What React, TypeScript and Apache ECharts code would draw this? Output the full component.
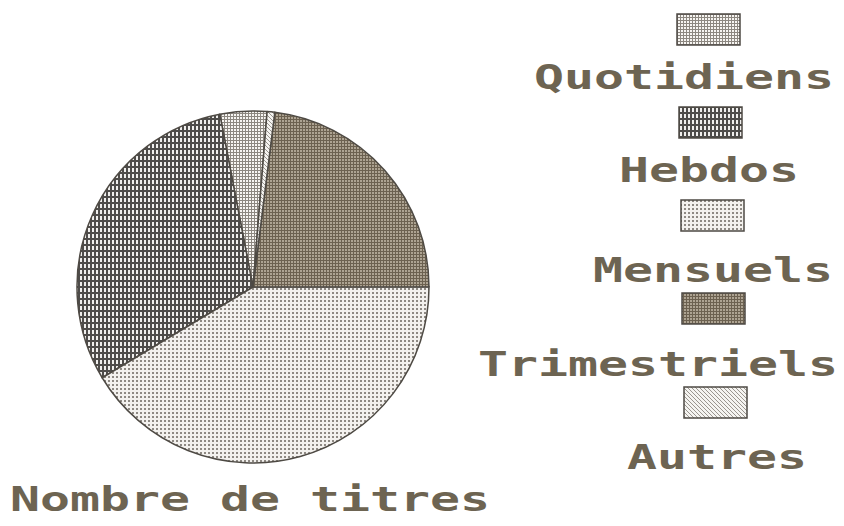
import React, { useEffect, useRef } from "react";
import * as echarts from "echarts";

// ---- data ----
const categories = ["Quotidiens", "Hebdos", "Mensuels", "Trimestriels", "Autres"];
const values = [4.3, 30.6, 41.4, 23.0, 0.7];
const chartTitle = "Nombre de titres";

// ---- layout / style (not data) ----
const boxX = [677, 679, 681, 682, 684];
const boxY = [14, 107, 200, 293, 387];
const textX = [534, 619, 593, 478, 627];
const textCapTop = [65, 158, 258, 352, 445];
const FONT_SIZE = 33;
const TEXT_SCALE_X = 1.51;
const TEXT_COLOR = "#6d6452";
const EDGE = "#4e4a44";

type Cell = [number, number, number, number];
function tile(w: number, h: number, bg: string, fg: string, cells: Cell[]) {
  const c = document.createElement("canvas");
  c.width = w;
  c.height = h;
  const ctx = c.getContext("2d")!;
  ctx.fillStyle = bg;
  ctx.fillRect(0, 0, w, h);
  ctx.fillStyle = fg;
  cells.forEach(([x, y, cw, ch]) => ctx.fillRect(x, y, cw, ch));
  return c;
}

function makePatterns() {
  return [
    // Quotidiens: grey grid with white holes
    tile(3, 3, "#8c8780", "#f7f5f2", [[0, 0, 2, 2]]),
    // Hebdos: dark grey with white vertical bricks
    tile(4, 6, "#4e4c4a", "#f0efed", [[0, 0, 2, 4]]),
    // Mensuels: white with sparse grey dots
    tile(4, 4, "#f3f1ee", "#8e8983", [[0, 0, 2, 2]]),
    // Trimestriels: brownish grey with lighter dots
    tile(3, 3, "#6c6150", "#ada392", [[0, 0, 2, 2]]),
    // Autres: white with diagonal dots
    tile(4, 4, "#f5f4f1", "#9a958f", [[0, 0, 1, 1], [1, 1, 1, 1], [2, 2, 1, 1], [3, 3, 1, 1]]),
  ];
}

export default function App() {
  const ref = useRef<HTMLDivElement>(null);

  useEffect(() => {
    if (!ref.current) return;
    const chart = echarts.init(ref.current, undefined, { renderer: "svg" });
    const pats = makePatterns();
    const pat = (i: number) => ({ image: pats[i], repeat: "repeat" } as any);

    const graphics: any[] = [];
    categories.forEach((name, i) => {
      graphics.push({
        type: "rect",
        shape: { x: boxX[i], y: boxY[i], width: 63, height: 31 },
        style: { fill: pat(i), stroke: EDGE, lineWidth: 1.5 },
        silent: true,
      });
      graphics.push({
        type: "text",
        x: textX[i],
        y: textCapTop[i] + 12.5,
        scaleX: TEXT_SCALE_X,
        style: {
          text: name,
          font: `bold ${FONT_SIZE}px 'DejaVu Sans Mono'`,
          fill: TEXT_COLOR,
          align: "left",
          verticalAlign: "middle",
        },
        silent: true,
      });
    });
    graphics.push({
      type: "text",
      x: 10,
      y: 500,
      scaleX: TEXT_SCALE_X,
      style: {
        text: chartTitle,
        font: `bold ${FONT_SIZE}px 'DejaVu Sans Mono'`,
        fill: TEXT_COLOR,
        align: "left",
        verticalAlign: "middle",
      },
      silent: true,
    });

    chart.setOption({
      animation: false,
      backgroundColor: "#ffffff",
      graphic: graphics,
      series: [
        {
          type: "pie",
          center: [253, 287],
          radius: 176,
          startAngle: 85.4,
          clockwise: false,
          label: { show: false },
          labelLine: { show: false },
          emphasis: { disabled: true },
          itemStyle: { borderColor: EDGE, borderWidth: 1.5 },
          data: categories.map((name, i) => ({
            name,
            value: values[i],
            itemStyle: { color: pat(i) },
          })),
        },
      ],
    });

    return () => chart.dispose();
  }, []);

  return (
    <div
      ref={ref}
      style={{ position: "absolute", left: 0, top: 0, width: 844, height: 526 }}
    />
  );
}
